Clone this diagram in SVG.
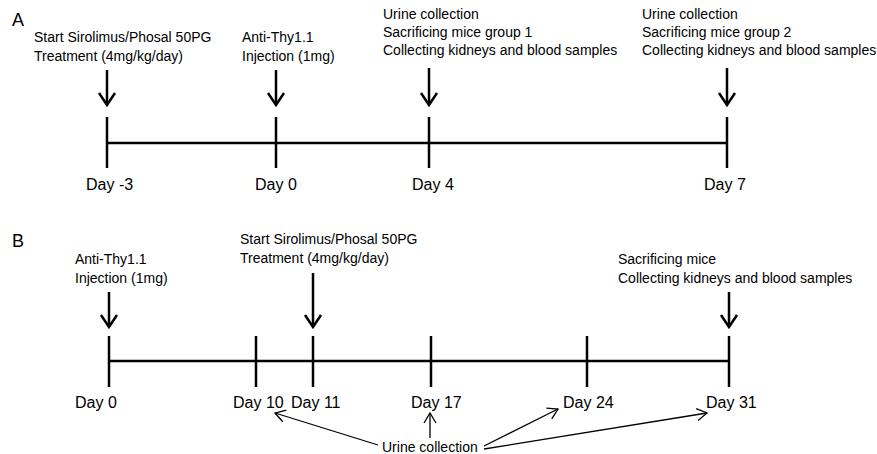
<svg xmlns="http://www.w3.org/2000/svg" width="877" height="454" viewBox="0 0 877 454">
<style>
text { font-family: "Liberation Sans", Arial, sans-serif; fill: #000; }
.lbl { font-size: 14px; }
.day { font-size: 16px; }
.panel { font-size: 18px; }
.axis { stroke: #000; stroke-width: 2.5; fill: none; }
.big { stroke: #000; stroke-width: 2.5; fill: none; marker-end: url(#ah); }
.thin { stroke: #000; stroke-width: 1.3; fill: none; marker-end: url(#ahs); }
</style>
<defs>
<marker id="ah" markerUnits="userSpaceOnUse" orient="auto" overflow="visible" refX="0" refY="0" markerWidth="1" markerHeight="1">
<path d="M-12,-8 L0,0 L-12,8" fill="none" stroke="#000" stroke-width="2.5"/>
</marker>
<marker id="ahs" markerUnits="userSpaceOnUse" orient="auto" overflow="visible" refX="0" refY="0" markerWidth="1" markerHeight="1">
<path d="M-10,-6 L0,0 L-10,6" fill="none" stroke="#000" stroke-width="1.3"/>
</marker>
</defs>
<rect width="877" height="454" fill="#fff"/>

<!-- Panel A -->
<text class="panel" x="12" y="26">A</text>
<g id="a-timeline"><line class="axis" x1="107" y1="143" x2="727" y2="143"/></g>
<g id="a-day-3"><line class="axis" x1="107" y1="117" x2="107" y2="168"/><text class="day" x="86" y="190">Day -3</text></g>
<g id="a-day0"><line class="axis" x1="276" y1="117" x2="276" y2="168"/><text class="day" x="255" y="190">Day 0</text></g>
<g id="a-day4"><line class="axis" x1="429" y1="117" x2="429" y2="168"/><text class="day" x="412" y="190">Day 4</text></g>
<g id="a-day7"><line class="axis" x1="727" y1="117" x2="727" y2="168"/><text class="day" x="704" y="190">Day 7</text></g>
<g id="a-ev1"><text class="lbl" x="34" y="42">Start Sirolimus/Phosal 50PG</text><text class="lbl" x="34" y="61">Treatment (4mg/kg/day)</text></g>
<g id="a-ev2"><text class="lbl" x="242" y="42">Anti-Thy1.1</text><text class="lbl" x="242" y="61">Injection (1mg)</text></g>
<g id="a-ev3"><text class="lbl" x="383" y="19">Urine collection</text><text class="lbl" x="383" y="37">Sacrificing mice group 1</text><text class="lbl" x="383" y="55">Collecting kidneys and blood samples</text></g>
<g id="a-ev4"><text class="lbl" x="642" y="19">Urine collection</text><text class="lbl" x="642" y="37">Sacrificing mice group 2</text><text class="lbl" x="642" y="55">Collecting kidneys and blood samples</text></g>

<!-- Panel B -->
<text class="panel" x="12" y="247">B</text>
<g id="b-timeline"><line class="axis" x1="109" y1="361" x2="729" y2="361"/></g>
<g id="b-day0"><line class="axis" x1="109" y1="336" x2="109" y2="387"/><text class="day" x="75" y="408">Day 0</text></g>
<g id="b-day10"><line class="axis" x1="256" y1="336" x2="256" y2="387"/><text class="day" x="233" y="408">Day 10</text></g>
<g id="b-day11"><line class="axis" x1="313" y1="336" x2="313" y2="387"/><text class="day" x="291" y="408">Day 11</text></g>
<g id="b-day17"><line class="axis" x1="431" y1="336" x2="431" y2="387"/><text class="day" x="411" y="408">Day 17</text></g>
<g id="b-day24"><line class="axis" x1="587" y1="336" x2="587" y2="387"/><text class="day" x="563" y="408">Day 24</text></g>
<g id="b-day31"><line class="axis" x1="729" y1="336" x2="729" y2="387"/><text class="day" x="706" y="408">Day 31</text></g>
<g id="b-ev1"><text class="lbl" x="75" y="264">Anti-Thy1.1</text><text class="lbl" x="75" y="283">Injection (1mg)</text></g>
<g id="b-ev2"><text class="lbl" x="240" y="244">Start Sirolimus/Phosal 50PG</text><text class="lbl" x="240" y="263">Treatment (4mg/kg/day)</text></g>
<g id="b-ev3"><text class="lbl" x="618" y="264">Sacrificing mice</text><text class="lbl" x="618" y="283">Collecting kidneys and blood samples</text></g>
<g id="b-urine"><text class="lbl" x="382" y="452">Urine collection</text></g>

<!-- Connectors -->
<g id="connectors">
<line class="big" x1="107" y1="70" x2="107" y2="105"/>
<line class="big" x1="276" y1="70" x2="276" y2="105"/>
<line class="big" x1="429" y1="68" x2="429" y2="105"/>
<line class="big" x1="727" y1="68" x2="727" y2="105"/>
<line class="big" x1="109" y1="292" x2="109" y2="327"/>
<line class="big" x1="313" y1="273" x2="313" y2="327"/>
<line class="big" x1="729" y1="292" x2="729" y2="327"/>
<line class="thin" x1="378" y1="445" x2="275" y2="413"/>
<line class="thin" x1="430" y1="438" x2="430" y2="413"/>
<line class="thin" x1="484" y1="446" x2="558" y2="409"/>
<line class="thin" x1="484" y1="449" x2="707" y2="413"/>
</g>
</svg>
